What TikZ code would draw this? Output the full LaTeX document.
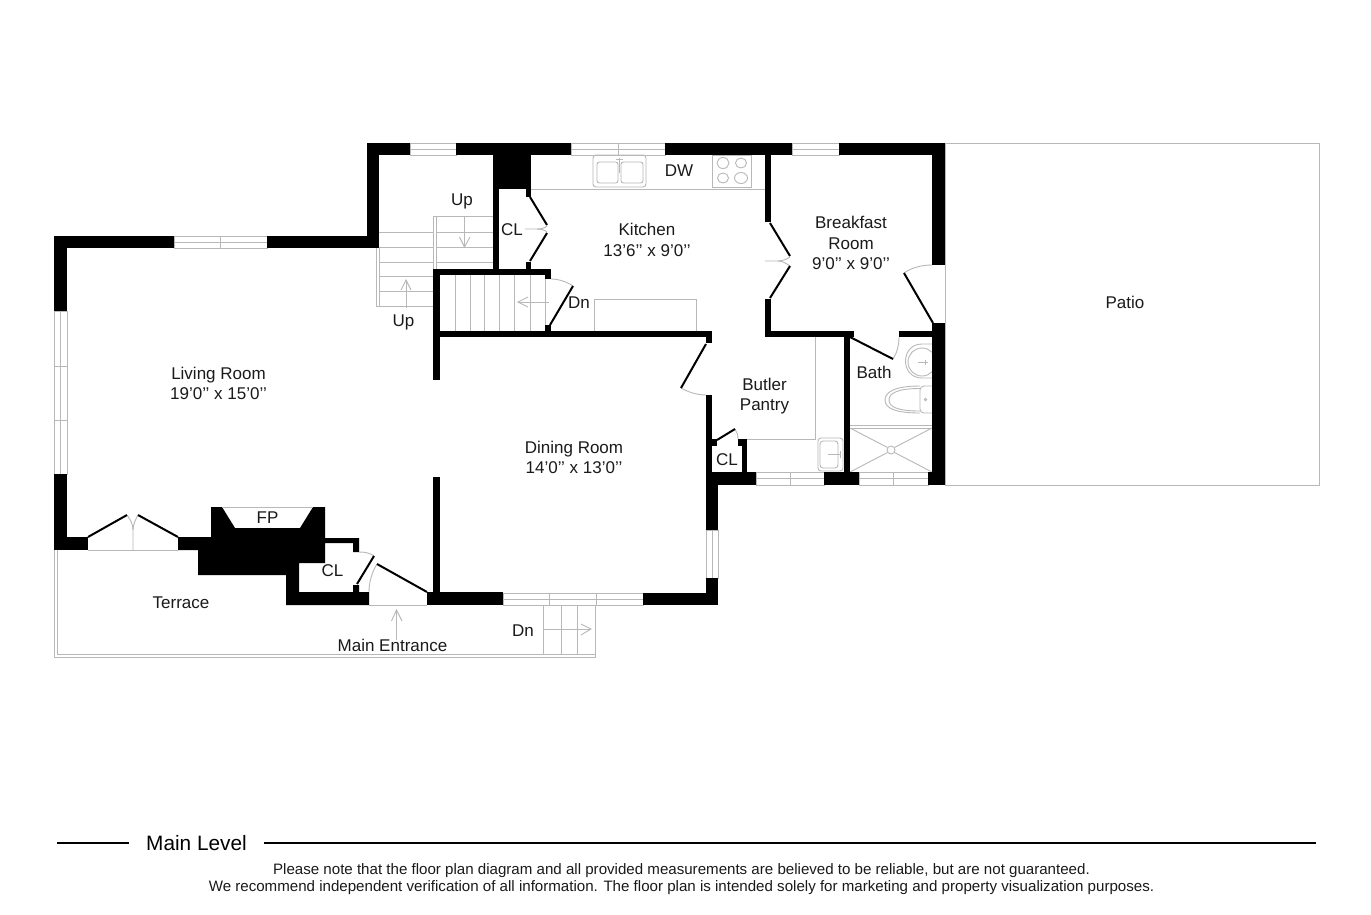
\documentclass[tikz,border=0pt]{standalone}
\usepackage{fontspec}
\setmainfont{Liberation Sans}
\definecolor{fpgray}{HTML}{B8B8B8}
\definecolor{fptext}{HTML}{1A1A1A}
\tikzset{
  wallfill/.style={fill=black,draw=none},
  thin gray/.style={draw=fpgray,line width=0.9pt},
  doorleaf/.style={draw=black,line width=2pt},
  lbl/.style={inner sep=0pt,text=fptext,align=center,font=\fontsize{17}{20.6}\selectfont},
  lvl/.style={inner sep=0pt,text=black,font=\fontsize{20.8}{24}\selectfont},
  foot/.style={inner sep=0pt,text=fptext,align=center,font=\fontsize{15.1}{16.2}\selectfont},
  openhead/.style={draw=fpgray,line width=0.9pt,line join=miter}
}
\newcommand{\wallbox}[4]{\fill[wallfill] (#1,#2) rectangle (#3,#4);}
\newcommand{\winh}[4]{\draw[thin gray] (#1,#2) rectangle (#3,#4) (#1,{(#2+#4)/2}) -- (#3,{(#2+#4)/2});}
\newcommand{\winv}[4]{\draw[thin gray] (#1,#2) rectangle (#3,#4) ({(#1+#3)/2},#2) -- ({(#1+#3)/2},#4);}
\begin{document}
\begin{tikzpicture}[x=1pt,y=-1pt]
\useasboundingbox (0,0) rectangle (1371,914);
\fill[white] (0,0) rectangle (1371,914);

% patio and terrace
\draw[thin gray] (945,143) -- (1319,143) -- (1319,485) -- (945,485) -- cycle;
\draw[thin gray] (54,550) -- (54,657) -- (595,657) -- (595,605);
\draw[thin gray] (57,550) -- (57,654) -- (595,654);
\draw[thin gray] (369,605) -- (427,605);
\draw[thin gray] (88,550) -- (178,550);

% windows
\winh{174}{236}{267}{248} \draw[thin gray] (220.5,236) -- (220.5,248);
\winv{54}{311}{67}{474} \draw[thin gray] (54,366) -- (67,366) (54,420) -- (67,420);
\winh{410}{143}{456}{155}
\winh{571}{143}{665}{155} \draw[thin gray] (618,143) -- (618,155);
\winh{792}{143}{839}{155}
\winh{756}{472}{824}{485} \draw[thin gray] (790,472) -- (790,485);
\winh{859}{472}{928}{485} \draw[thin gray] (893,472) -- (893,485);
\winv{706}{530}{718}{578}
\winh{503}{593}{643}{605} \draw[thin gray] (549,593) -- (549,605) (596,593) -- (596,605);

% stairs, upper flight
\draw[thin gray] (433,216) -- (493,216) (433,216) -- (433,269) (436,216) -- (436,269);
\draw[thin gray] (436,232) -- (493,232) (436,247) -- (493,247) (436,262) -- (493,262);
\draw[thin gray] (379,232) -- (433,232) (379,247) -- (433,247) (379,262) -- (433,262)
  (379,276) -- (433,276) (379,291) -- (433,291) (376,306) -- (433,306);
\draw[thin gray] (376,248) -- (376,306) (379,248) -- (379,306);
\draw[thin gray] (464.5,216) -- (464.5,247);
\draw[openhead] (459.5,237) -- (464.5,247) -- (470,237);
\draw[thin gray] (406,280) -- (406,308);
\draw[openhead] (401,290) -- (406,280) -- (411,290);

% basement stairs
\draw[thin gray] (455,275) -- (455,331) (470,275) -- (470,331) (484.5,275) -- (484.5,331)
  (499.5,275) -- (499.5,331) (514.5,275) -- (514.5,331) (530,275) -- (530,331) (545,275) -- (545,331);
\draw[thin gray] (549,302) -- (518,302);
\draw[openhead] (528,297) -- (518,302) -- (528,307);

% entrance steps and arrows
\draw[thin gray] (543,605) -- (543,654) (561,605) -- (561,654) (577,605) -- (577,654);
\draw[thin gray] (543,629) -- (591,629);
\draw[openhead] (581,624) -- (591,629) -- (581,635);
\draw[thin gray] (396.5,610) -- (396.5,640);
\draw[openhead] (391.5,621) -- (396.5,610) -- (402,621);

% kitchen fixtures
\draw[thin gray] (531,189) -- (765,189);
\draw[thin gray] (594,299) rectangle (696,331);
\draw[thin gray,rounded corners=3pt] (593,155) rectangle (646,187);
\draw[thin gray,rounded corners=2.5pt] (597,162) rectangle (618,183);
\draw[thin gray,rounded corners=2.5pt] (621,162) rectangle (643,183);
\draw[thin gray] (619.5,158) -- (619.5,173) (616,159) -- (623,159);
\draw[thin gray] (712,155) rectangle (751,187);
\draw[thin gray] (723,163) ellipse (6 and 5.5) (741,163) ellipse (5.5 and 5)
  (723,178) ellipse (5.5 and 5) (741,178) ellipse (6.5 and 5.5);

% pantry fixtures
\draw[thin gray] (815,337) -- (815,439) -- (747,439);
\draw[thin gray,rounded corners=3pt] (818,438) rectangle (843,471);
\draw[thin gray,rounded corners=3pt] (820,441) rectangle (838,468);
\draw[thin gray] (828,454.5) -- (840,454.5) (840,451) -- (840,458);

% bath fixtures
\begin{scope}
\clip (850,337) rectangle (932,472);
\draw[thin gray] (932,344) -- (922,344) .. controls (900,344) and (900,378) .. (922,378) -- (932,378);
\draw[thin gray] (922,362) ellipse (14 and 14);
\draw[thin gray] (918,362) -- (928,362) (925,359.5) -- (925,364.5);
\draw[thin gray] (920,386) .. controls (895,386) and (885,392) .. (885,400) .. controls (885,408) and (895,413) .. (920,413);
\draw[thin gray] (920,388.5) .. controls (898,388.5) and (889,393) .. (889,400) .. controls (889,407) and (898,411) .. (920,411);
\draw[thin gray,rounded corners=4pt] (920,386) rectangle (940,413);
\draw[thin gray] (925.5,399.5) circle (1.2);
\draw[thin gray] (850,425) -- (932,425) (850,428) -- (932,428);
\draw[thin gray] (850,428) -- (887.5,447.5) (932,428) -- (894.5,447.5)
  (850,472) -- (887.5,452.5) (932,472) -- (894.5,452.5);
\draw[thin gray] (891,450) circle (4);
\end{scope}

% door swings
\draw[thin gray] (525,229) -- (537,229) .. controls (541,229) and (545,228) .. (547,226);
\draw[thin gray] (537,229) .. controls (541,229) and (545,230) .. (547,232);
\draw[thin gray] (765,261) -- (778,261) .. controls (783,261) and (787,259) .. (790,257);
\draw[thin gray] (778,261) .. controls (783,261) and (787,264) .. (790,266);
\draw[thin gray] (133,550) -- (133,530) .. controls (133,524) and (130,519) .. (127,515);
\draw[thin gray] (133,530) .. controls (133,524) and (136,519) .. (138,515);
\draw[thin gray] (551,279) .. controls (559,279) and (567,282) .. (573,286);
\draw[thin gray] (904,273) .. controls (911,268) and (921,265) .. (932,265);
\draw[thin gray] (945,265) -- (945,323);
\draw[thin gray] (893,359) .. controls (897,353) and (899,345) .. (899,337);
\draw[thin gray] (681,388) .. controls (688,392) and (697,395) .. (706,395);
\draw[thin gray] (735,429) .. controls (737,432) and (738,435) .. (738,439);
\draw[thin gray] (359,552) .. controls (365,552) and (370,553) .. (374,556);
\draw[thin gray] (377,564) .. controls (372,572) and (369,582) .. (369,592);

% door leaves
\draw[doorleaf] (530,197) -- (547,225);
\draw[doorleaf] (547,233) -- (530,261);
\draw[doorleaf] (550,325) -- (573,286);
\draw[doorleaf] (770,223) -- (790,256);
\draw[doorleaf] (790,266) -- (770,298);
\draw[doorleaf] (904,273) -- (933,323);
\draw[doorleaf] (850,337) -- (893,359);
\draw[doorleaf] (706,344) -- (681,388);
\draw[doorleaf] (717,440) -- (735,429);
\draw[doorleaf] (88,537) -- (127,515);
\draw[doorleaf] (138,515) -- (178,537);
\draw[doorleaf] (357,584) -- (374,556);
\draw[doorleaf] (377,564) -- (427,592);

% walls
\wallbox{54}{236}{174}{248}
\wallbox{267}{236}{379}{248}
\wallbox{54}{236}{67}{311}
\wallbox{54}{474}{67}{550}
\wallbox{54}{537}{88}{550}
\wallbox{178}{537}{212}{550}
\wallbox{367}{143}{379}{248}
\wallbox{367}{143}{410}{155}
\wallbox{456}{143}{571}{155}
\wallbox{665}{143}{792}{155}
\wallbox{839}{143}{945}{155}
\wallbox{932}{143}{945}{265}
\wallbox{932}{323}{945}{485}
\wallbox{493}{143}{531}{189}
\wallbox{526}{189}{531}{197}
\wallbox{493}{189}{499}{270}
\wallbox{526}{262}{531}{270}
\wallbox{433}{269}{551}{275}
\wallbox{545}{275}{551}{279}
\wallbox{433}{269}{440}{380}
\wallbox{433}{331}{712}{337}
\wallbox{706}{337}{712}{343}
\wallbox{545}{325}{551}{331}
\wallbox{765}{155}{771}{222}
\wallbox{765}{299}{771}{337}
\wallbox{765}{331}{854}{337}
\wallbox{899}{331}{932}{337}
\wallbox{844}{331}{850}{472}
\wallbox{706}{395}{712}{472}
\wallbox{712}{439}{717}{446}
\wallbox{738}{439}{747}{446}
\wallbox{742}{446}{747}{472}
\wallbox{706}{472}{756}{485}
\wallbox{824}{472}{859}{485}
\wallbox{928}{472}{945}{485}
\wallbox{706}{485}{718}{530}
\wallbox{706}{578}{718}{605}
\wallbox{433}{477}{440}{592}
\wallbox{427}{592}{503}{605}
\wallbox{643}{593}{718}{605}
% fireplace mass and closet
\fill[wallfill] (211,507) -- (222,507) -- (235,528) -- (300,528) -- (313,507) -- (325,507)
  -- (325,538) -- (359,538) -- (359,552) -- (353,552) -- (353,543) -- (325,543) -- (325,563)
  -- (299,563) -- (299,592) -- (353,592) -- (353,585) -- (359,585) -- (359,592) -- (369,592) -- (369,605)
  -- (286,605) -- (286,575) -- (198,575) -- (198,550) -- (178,550) -- (178,537) -- (211,537) -- cycle;
\draw[thin gray] (222,507) -- (313,507);

% labels
\node[lbl] (livingroom) at (218.5,383.5) {Living Room\\19’0’{}’ x 15’0’{}’};
\node[lbl] (kitchen) at (647,240) {Kitchen\\13’6’{}’ x 9’0’{}’};
\node[lbl] (dw) at (679,170.5) {DW};
\node[lbl] (upa) at (462,201.5) {Up};
\node[lbl] (upb) at (403.5,322) {Up};
\node[lbl] (cla) at (512,229.5) {CL};
\node[lbl] (dna) at (579,302.5) {Dn};
\node[lbl] (breakfast) at (851,243) {Breakfast\\Room\\9’0’{}’ x 9’0’{}’};
\node[lbl] (patio) at (1125,302.5) {Patio};
\node[lbl] (bath) at (874,372.5) {Bath};
\node[lbl] (butler) at (764.5,396) {Butler\\Pantry};
\node[lbl] (clb) at (727,459.5) {CL};
\node[lbl] (dining) at (574,457.5) {Dining Room\\14’0’{}’ x 13’0’{}’};
\node[lbl] (fp) at (267.5,517.5) {FP};
\node[lbl] (clc) at (332.5,570.5) {CL};
\node[lbl] (terrace) at (181,602.5) {Terrace};
\node[lbl] (dnb) at (523,630.5) {Dn};
\node[lbl] (entrance) at (392.5,645) {Main Entrance};

% footer
\node[lvl] (mainlevel) at (196.5,843.5) {Main Level};
\coordinate (ruleastart) at (57,843);
\coordinate (ruleaend) at (129,843);
\coordinate (rulebstart) at (264,843);
\coordinate (rulebend) at (1316,843);
\draw[black,line width=2.6pt] (ruleastart) -- (ruleaend);
\draw[black,line width=2.6pt] (rulebstart) -- (rulebend);
\node[foot] (note) at (681.5,879) {Please note that the floor plan diagram and all provided measurements are believed to be reliable, but are not guaranteed.\\We recommend independent verification of all information. The floor plan is intended solely for marketing and property visualization purposes.};
\end{tikzpicture}
\end{document}
